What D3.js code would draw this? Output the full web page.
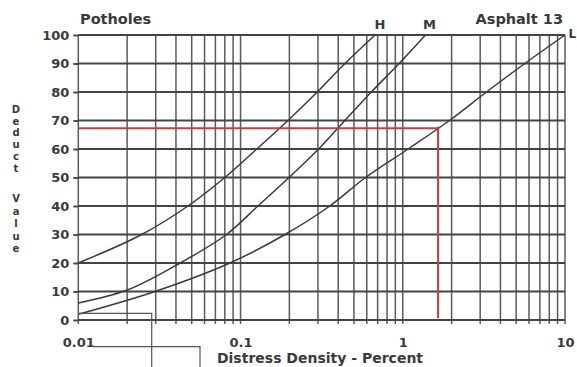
<!DOCTYPE html>
<html>
<head>
<meta charset="utf-8">
<script src="https://cdn.jsdelivr.net/npm/d3@7"></script>
<style>
  html, body { margin: 0; padding: 0; background: #fff; }
  svg { display: block; }
  text { font-family: "DejaVu Sans", Verdana, sans-serif; font-weight: bold; fill: #3a3a3a; }
</style>
</head>
<body>
<svg id="chart" width="577" height="367"></svg>
<script>
// Deduct value curves for potholes (asphalt), by severity level
const densityTickValues = [0.01, 0.1, 1, 10];
const densityTickLabels = ["0.01", "0.1", "1", "10"];
const deductTickValues = [0, 10, 20, 30, 40, 50, 60, 70, 80, 90, 100];

const highDensity   = [0.01, 0.0246, 0.0474, 0.080, 0.126, 0.196, 0.297, 0.44, 0.675];
const highDeduct    = [20,   30,     40,     50,    60,    70,    80,    90,   100];

const mediumDensity = [0.01, 0.02, 0.0424, 0.082, 0.128, 0.199, 0.303, 0.44, 0.64, 0.95, 1.38];
const mediumDeduct  = [6,    10.5, 20,     30,    40,    50,    60,    70,   80,   90,   100];

const lowDensity    = [0.01, 0.0297, 0.086, 0.188, 0.355, 0.59, 1.08, 1.94, 3.28, 5.65, 10];
const lowDeduct     = [2,    10,     20,    30,    40,    50,   60,   70,   80,   90,   100];

// Worked example: reading a deduct value off the low-severity curve
const exampleDensity = 1.65;
const exampleDeduct = 67.3;

const svg = d3.select("#chart");

const x = d3.scaleLog().domain([0.01, 10]).range([78.3, 565]);
const y = d3.scaleLinear().domain([0, 100]).range([320, 35]);

// Log grid: every integer multiple within each decade
const minorDensities = [];
[0.01, 0.1, 1].forEach(d => { for (let k = 1; k <= 9; k++) minorDensities.push(+(d * k).toPrecision(3)); });
minorDensities.push(10);

const grid = svg.append("g");
grid.selectAll("line.v").data(minorDensities).join("line")
  .attr("class", "v")
  .attr("x1", d => x(d)).attr("x2", d => x(d))
  .attr("y1", y(100)).attr("y2", y(0) + 4)
  .attr("stroke", "#5a5a5a").attr("stroke-width", 1.5);

grid.selectAll("line.h").data(deductTickValues).join("line")
  .attr("class", "h")
  .attr("x1", x(0.01)).attr("x2", x(10))
  .attr("y1", d => y(d)).attr("y2", d => y(d))
  .attr("stroke", "#444").attr("stroke-width", 1.9);

// Axes
const yAxis = d3.axisLeft(y).tickValues(deductTickValues).tickSize(5).tickPadding(4).tickSizeOuter(0);
const gy = svg.append("g").attr("transform", `translate(${x(0.01)},0)`).call(yAxis);
gy.select(".domain").remove();
gy.selectAll(".tick line").attr("stroke", "#444").attr("stroke-width", 1.9);
gy.selectAll(".tick text").style("font-size", "13px").attr("fill", "#3a3a3a");

const xAxis = d3.axisBottom(x).tickValues(densityTickValues)
  .tickFormat((d, i) => densityTickLabels[i]).tickSize(4).tickPadding(14).tickSizeOuter(0);
const gx = svg.append("g").attr("transform", `translate(0,${y(0)})`).call(xAxis);
gx.select(".domain").remove();
gx.selectAll(".tick line").remove();
gx.selectAll(".tick text").style("font-size", "13px").attr("fill", "#3a3a3a");

// Severity curves
const line = d3.line().x(d => x(d[0])).y(d => y(d[1])).curve(d3.curveCatmullRom.alpha(0.5));
const curves = [
  [highDensity, highDeduct],
  [mediumDensity, mediumDeduct],
  [lowDensity, lowDeduct]
];
svg.append("g").selectAll("path").data(curves).join("path")
  .attr("d", ([xs, ys]) => line(xs.map((v, i) => [v, ys[i]])))
  .attr("fill", "none").attr("stroke", "#3a3a3a").attr("stroke-width", 1.5);

// Example reading in red
const ex = svg.append("g").attr("stroke", "#d23a3a").attr("stroke-width", 2);
ex.append("line").attr("x1", x(0.01)).attr("x2", x(exampleDensity))
  .attr("y1", y(exampleDeduct)).attr("y2", y(exampleDeduct));
ex.append("line").attr("x1", x(exampleDensity)).attr("x2", x(exampleDensity))
  .attr("y1", y(exampleDeduct) - 1.5).attr("y2", y(0.7));

// Leader lines running off the bottom of the sheet
const leaders = svg.append("g").attr("fill", "none").attr("stroke", "#555").attr("stroke-width", 1.2);
leaders.append("polyline").attr("points", `${x(0.01)},313.3 151.7,313.3 151.7,367`);
leaders.append("polyline").attr("points", `93,346.7 200,346.7 200,367`);

// Titles and curve labels
svg.append("text").attr("x", 80).attr("y", 24).style("font-size", "14.5px").text("Potholes");
svg.append("text").attr("x", 563).attr("y", 24).attr("text-anchor", "end").style("font-size", "14.5px").text("Asphalt 13");
svg.append("text").attr("x", 380).attr("y", 29).attr("text-anchor", "middle").style("font-size", "13px").text("H");
svg.append("text").attr("x", 429.5).attr("y", 29).attr("text-anchor", "middle").style("font-size", "13px").text("M");
svg.append("text").attr("x", 568.5).attr("y", 38).style("font-size", "12px").text("L");

svg.append("text").attr("x", 320).attr("y", 363).attr("text-anchor", "middle")
  .style("font-size", "14px").text("Distress Density - Percent");

// Vertical axis title, one letter per row, two stacked words
const yTitleWords = ["Deduct", "Value"];
const yTitleStart = [113, 202];
const yTitleStep = [11.7, 12.5];
const yTitleRows = [];
yTitleWords.forEach((w, wi) => w.split("").forEach((ch, i) =>
  yTitleRows.push({ ch, y: yTitleStart[wi] + i * yTitleStep[wi] })));
svg.append("g").selectAll("text").data(yTitleRows).join("text")
  .attr("x", 16).attr("y", d => d.y)
  .attr("text-anchor", "middle").style("font-size", "10px")
  .text(d => d.ch);
</script>
</body>
</html>
